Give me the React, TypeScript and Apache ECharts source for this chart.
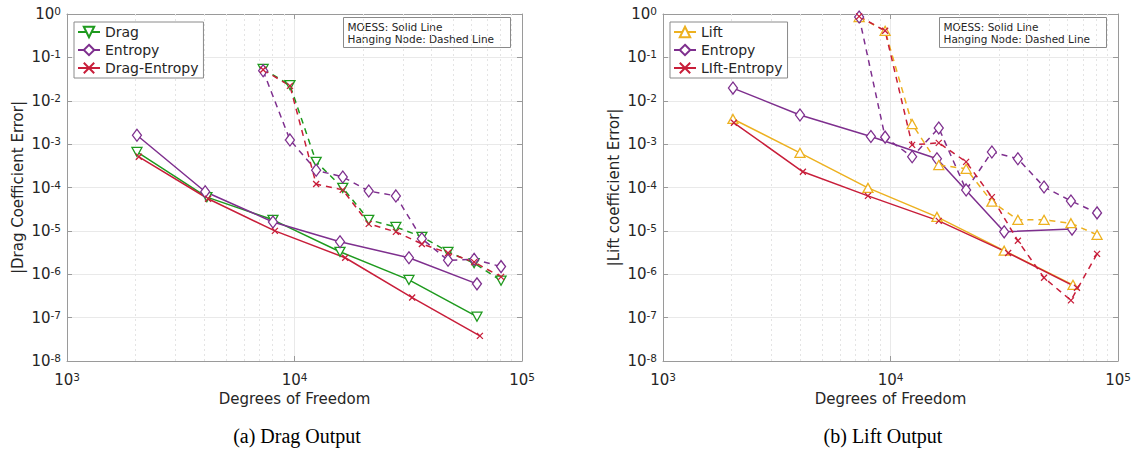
import React, { useEffect, useRef } from 'react';
import * as echarts from 'echarts';

// ---------- data ----------
// Left panel: Drag output, MOESS (solid)
const dragDof = [2030, 4120, 8040, 15850, 31850, 63400];
const dragErr = [6.6e-4, 6.0e-5, 1.8e-5, 3.3e-6, 7.4e-7, 1.05e-7];
const entropyDofL = [2030, 4050, 8040, 15850, 31850, 63400];
const entropyErrL = [1.6e-3, 8.0e-5, 1.6e-5, 5.6e-6, 2.4e-6, 6.0e-7];
const dragEntDof = [2070, 4170, 8200, 16700, 32900, 65300];
const dragEntErr = [5.1e-4, 5.5e-5, 1.0e-5, 2.4e-6, 2.9e-7, 3.8e-8];
// Left panel: Hanging node (dashed)
const hnDofL = [7280, 9550, 12450, 16300, 21200, 27900, 36300, 47300, 61600, 80900];
const dragHnErr = [0.054, 0.023, 3.9e-4, 9.8e-5, 1.8e-5, 1.23e-5, 7.3e-6, 3.3e-6, 1.8e-6, 7.1e-7];
const dragEntHnErr = [0.052, 0.022, 1.2e-4, 8.8e-5, 1.45e-5, 9.5e-6, 5.0e-6, 3.1e-6, 1.9e-6, 8.7e-7];
const entropyHnErrL = [0.049, 1.25e-3, 2.5e-4, 1.75e-4, 8.3e-5, 6.4e-5, 6.6e-6, 2.1e-6, 2.2e-6, 1.5e-6];

// Right panel: Lift output, MOESS (solid)
const liftDof = [2030, 4000, 7960, 16000, 31600, 63400];
const liftErr = [3.8e-3, 6.3e-4, 9.8e-5, 2.1e-5, 3.5e-6, 5.7e-7];
const entropyDofR = [2030, 4000, 8200, 16000, 31600, 62800];
const entropyErrR = [0.0196, 4.7e-3, 1.5e-3, 4.6e-4, 9.5e-6, 1.1e-5];
const liftEntDof = [2050, 4120, 7960, 16300, 32900, 66000];
const liftEntErr = [3.1e-3, 2.3e-4, 6.4e-5, 1.7e-5, 3.1e-6, 4.9e-7];
// Right panel: Hanging node (dashed)
const hnDofR = [7280, 9470, 12450, 16300, 21500, 27900, 36300, 47300, 62100, 80900];
const liftHnErr = [0.85, 0.41, 2.9e-3, 3.3e-4, 2.7e-4, 4.7e-5, 1.8e-5, 1.8e-5, 1.5e-5, 8.1e-6];
const liftEntHnErr = [0.88, 0.41, 9.6e-4, 1.07e-3, 3.9e-4, 6.0e-5, 5.9e-6, 8.3e-7, 2.5e-7, 2.95e-6];
const entropyHnErrR = [0.85, 1.45e-3, 5.1e-4, 2.35e-3, 8.8e-5, 6.6e-4, 4.6e-4, 1.03e-4, 4.9e-5, 2.6e-5];

const legendLeft = ['Drag', 'Entropy', 'Drag-Entropy'];
const legendRight = ['Lift', 'Entropy', 'LIft-Entropy'];
const minorGridX = [2000, 3000, 4000, 5000, 6000, 7000, 8000, 9000, 20000, 30000, 40000, 50000, 60000, 70000, 80000, 90000];
const noteLines = ['MOESS: Solid Line', 'Hanging Node: Dashed Line'];
const captions = ['(a) Drag Output', '(b) Lift Output'];
const yNames = ['|Drag Coefficient Error|', '|Lift coefficient Error|'];
const xName = 'Degrees of Freedom';

// ---------- styling ----------
const FONT = "'DejaVu Sans', sans-serif";
const TEXT = '#262626';
const AXIS = '#9a9a9a';
const GREEN = '#1e9a1e';
const PURPLE = '#7e2f8e';
const RED = '#c81e3a';
const YELLOW = '#edb120';
const CROSS = 'path://M0 0L10 10M10 0L0 10';

const rich = {
  b: { fontSize: 15, fontFamily: FONT, color: TEXT },
  s: { fontSize: 10.5, fontFamily: FONT, color: TEXT, verticalAlign: 'top', padding: [0, 0, 6, 0] },
};
const supLabel = (v: number) => `{b|10}{s|${Math.round(Math.log10(v))}}`;

function axesFor(grid: number) {
  const common = {
    type: 'log', logBase: 10, gridIndex: grid,
    axisLine: { show: true, onZero: false, lineStyle: { color: AXIS, width: 1 } },
    axisTick: { show: true, inside: true, length: 5, lineStyle: { color: AXIS } },
  };
  const x = [
    {
      ...common, min: 1e3, max: 1e5, position: 'bottom',
      name: xName, nameLocation: 'middle', nameGap: 30,
      nameTextStyle: { fontSize: 15, fontFamily: FONT, color: TEXT },
      axisLabel: { formatter: supLabel, rich, margin: 10 },
      splitLine: { show: true, lineStyle: { color: '#e9e9e9' } },
    },
    { ...common, min: 1e3, max: 1e5, position: 'top', axisLabel: { show: false }, splitLine: { show: false } },
  ];
  const y = [
    {
      ...common, min: 1e-8, max: 1, splitNumber: 8, position: 'left',
      name: yNames[grid], nameLocation: 'middle', nameGap: 42, nameRotate: 90,
      nameTextStyle: { fontSize: 15, fontFamily: FONT, color: TEXT },
      axisLabel: { formatter: supLabel, rich, margin: 6 },
      splitLine: { show: true, lineStyle: { color: '#e9e9e9' } },
    },
    { ...common, min: 1e-8, max: 1, splitNumber: 8, position: 'right', axisLabel: { show: false }, splitLine: { show: false } },
  ];
  return { x, y };
}

function ser(name: string, xs: number[], ys: number[], color: string, symbol: string,
  size: number[], rotate: number, dashed: boolean, grid: number, withGrid = false) {
  const s: any = {
    type: 'line', name, xAxisIndex: grid * 2, yAxisIndex: grid * 2,
    data: xs.map((x, i) => [x, ys[i]]),
    color, symbol, symbolSize: size, symbolRotate: rotate, showSymbol: true,
    lineStyle: { color, width: 1.5, type: dashed ? [6, 5] : 'solid' },
    itemStyle: { color: '#fff', borderColor: color, borderWidth: 1.3 },
    emphasis: { disabled: true }, z: 3,
  };
  if (withGrid) {
    s.markLine = {
      silent: true, symbol: ['none', 'none'], label: { show: false }, z: 1,
      lineStyle: { color: '#e4e4e4', type: [2, 3], width: 1 },
      emphasis: { disabled: true },
      data: minorGridX.map((v) => ({ xAxis: v })),
    };
  }
  return s;
}

function noteBox(left: number) {
  return {
    type: 'group', left, top: 17,
    children: [
      { type: 'rect', shape: { x: 0, y: 0, width: 167, height: 30 }, style: { fill: '#fff', stroke: '#8a8a8a', lineWidth: 1 } },
      { type: 'text', x: 4, y: 3, style: { text: noteLines.join('\n'), font: `10.5px ${FONT}`, fill: TEXT, lineHeight: 12.5 } },
    ],
  };
}

export default function App() {
  const ref = useRef<HTMLDivElement>(null);
  useEffect(() => {
    if (!ref.current) return;
    const chart = echarts.init(ref.current, undefined, { renderer: 'svg' });
    const a0 = axesFor(0);
    const a1 = axesFor(1);
    const legendCommon = {
      orient: 'vertical', top: 22, itemWidth: 22, itemHeight: 13, itemGap: 4,
      padding: [3, 5, 3, 3], backgroundColor: '#fff', borderColor: '#8a8a8a', borderWidth: 1,
      textStyle: { fontSize: 14, fontFamily: FONT, color: TEXT },
      selectedMode: false,
    };
    chart.setOption({
      animation: false,
      grid: [
        { left: 67, top: 14, width: 455, height: 347 },
        { left: 663, top: 14, width: 455, height: 347 },
      ],
      xAxis: [...a0.x, ...a1.x],
      yAxis: [...a0.y, ...a1.y],
      legend: [
        { ...legendCommon, left: 74, data: legendLeft },
        { ...legendCommon, left: 670, data: legendRight },
      ],
      series: [
        ser('Drag', dragDof, dragErr, GREEN, 'triangle', [10, 9], 180, false, 0, true),
        ser('Entropy', entropyDofL, entropyErrL, PURPLE, 'diamond', [9, 12], 0, false, 0),
        ser('Drag-Entropy', dragEntDof, dragEntErr, RED, CROSS, [6, 6], 0, false, 0),
        ser('Drag HN', hnDofL, dragHnErr, GREEN, 'triangle', [10, 9], 180, true, 0),
        ser('Entropy HN', hnDofL, entropyHnErrL, PURPLE, 'diamond', [9, 12], 0, true, 0),
        ser('Drag-Entropy HN', hnDofL, dragEntHnErr, RED, CROSS, [6, 6], 0, true, 0),

        ser('Lift', liftDof, liftErr, YELLOW, 'triangle', [10, 9], 0, false, 1, true),
        ser('Entropy R', entropyDofR, entropyErrR, PURPLE, 'diamond', [9, 12], 0, false, 1),
        ser('LIft-Entropy', liftEntDof, liftEntErr, RED, CROSS, [6, 6], 0, false, 1),
        ser('Lift HN', hnDofR, liftHnErr, YELLOW, 'triangle', [10, 9], 0, true, 1),
        ser('Entropy HN R', hnDofR, entropyHnErrR, PURPLE, 'diamond', [9, 12], 0, true, 1),
        ser('LIft-Entropy HN', hnDofR, liftEntHnErr, RED, CROSS, [6, 6], 0, true, 1),
      ],
      graphic: [
        noteBox(343),
        noteBox(939),
        { type: 'text', x: 297, y: 436, style: { text: captions[0], font: "20px 'Liberation Serif', serif", fill: '#000', textAlign: 'center', textVerticalAlign: 'middle' } },
        { type: 'text', x: 883, y: 436, style: { text: captions[1], font: "20px 'Liberation Serif', serif", fill: '#000', textAlign: 'center', textVerticalAlign: 'middle' } },
      ],
    });
    return () => chart.dispose();
  }, []);
  return <div ref={ref} style={{ position: 'fixed', left: 0, top: 0, width: 1135, height: 452, background: '#fff' }} />;
}
